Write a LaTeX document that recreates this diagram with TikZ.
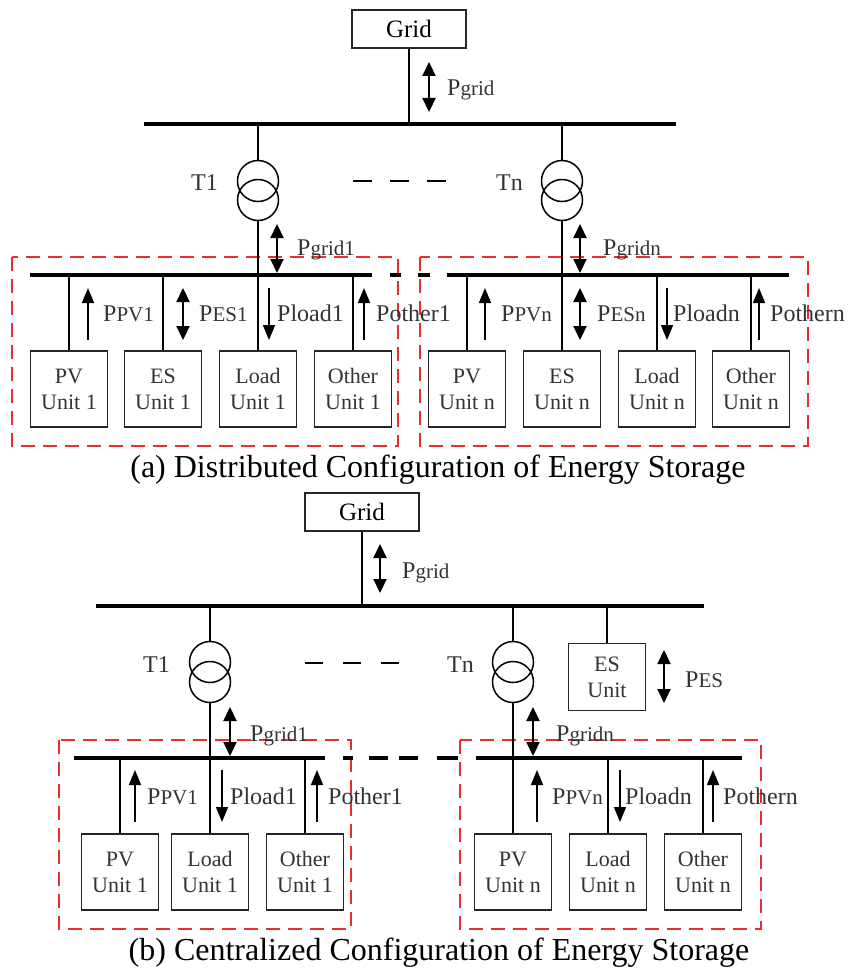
\documentclass[tikz,border=0pt]{standalone}
\usepackage{fontspec}
\setmainfont{Liberation Serif}
\usetikzlibrary{arrows.meta}
\definecolor{frame}{RGB}{235,45,45}
\newcommand\plab[2]{{\fontsize{24}{24}\selectfont #1{\fontsize{21}{21}\selectfont #2}}}
\begin{document}
\begin{tikzpicture}[x=1pt,y=-1pt,
 unitbox/.style={draw=black!85, line width=1.8pt, minimum width=77pt, minimum height=76pt, inner sep=0pt, align=center, font=\fontsize{22}{26}\selectfont, text=black!80},
 gridbox/.style={draw=black!85, line width=2pt, minimum width=114pt, minimum height=38pt, inner sep=0pt, font=\fontsize{25}{25}\selectfont},
 bus/.style={line width=3.4pt},
 branch/.style={line width=2.8pt},
 trafo/.style={draw, circle, line width=1.5pt, minimum size=41pt, inner sep=0pt},
 sarrow/.style={line width=1.6pt, -{Triangle[length=15pt,width=12pt]}},
 darrow/.style={line width=2.2pt, {Triangle[length=14pt,width=13pt]}-{Triangle[length=14pt,width=13pt]}},
 lab/.style={anchor=base west, inner sep=0pt, text=black!80},
 tlab/.style={anchor=base east, inner sep=0pt, font=\fontsize{24}{24}\selectfont, text=black!80},
 grp/.style={draw=frame, line width=2pt, dash pattern=on 14pt off 8pt},
 gapline/.style={line width=2pt},
 captext/.style={font=\fontsize{32}{32}\selectfont}
]
\useasboundingbox (0,0) rectangle (851,971);

% ================= (a) =================
\draw[grp] (12,257) rectangle (398,446);
\draw[grp] (420,257) rectangle (808,446);

\node[gridbox] (gridA) at (409,29) {Grid};
\coordinate (topA) at (409,124);
\draw[bus] (144,124) -- (676,124);
\draw[branch] (gridA.south) -- (topA);
\draw[darrow] (429,62) -- (429,112);
\node[lab] at (447,96) {\plab{P}{grid}};

% transformers
\node[trafo] (t1a) at (258,181) {};
\node[trafo] (t1b) at (258,200) {};
\node[trafo] (tna) at (562,181) {};
\node[trafo] (tnb) at (562,200) {};
\node[tlab] at (218,190) {T1};
\node[tlab] at (523,190) {Tn};
\draw[branch] (t1a.north) -- (t1a.north |- topA);
\draw[branch] (tna.north) -- (tna.north |- topA);
\draw[gapline, dash pattern=on 19pt off 18pt] (353,181) -- (448,181);

% low-voltage buses
\coordinate (busA1) at (30,275);
\coordinate (busAn) at (447,275);
\draw[bus] (busA1) -- (372,275);
\draw[bus] (busAn) -- (789,275);
\draw[bus] (390,275) -- (401,275);
\draw[bus] (418,275) -- (430,275);

% units feeder 1
\node[unitbox] (pv1a) at (69,389) {PV\\Unit 1};
\node[unitbox] (es1a) at (163,389) {ES\\Unit 1};
\node[unitbox] (ld1a) at (258,389) {Load\\Unit 1};
\node[unitbox] (ot1a) at (353,389) {Other\\Unit 1};
\draw[branch] (pv1a.north) -- (pv1a.north |- busA1);
\draw[branch] (es1a.north) -- (es1a.north |- busA1);
\draw[branch] (t1b.south) -- (ld1a.north);
\draw[branch] (ot1a.north) -- (ot1a.north |- busA1);

% units feeder n
\node[unitbox] (pvna) at (467,389) {PV\\Unit n};
\node[unitbox] (esna) at (562,389) {ES\\Unit n};
\node[unitbox] (ldna) at (657,389) {Load\\Unit n};
\node[unitbox] (otna) at (751,389) {Other\\Unit n};
\draw[branch] (pvna.north) -- (pvna.north |- busAn);
\draw[branch] (tnb.south) -- (esna.north);
\draw[branch] (ldna.north) -- (ldna.north |- busAn);
\draw[branch] (otna.north) -- (otna.north |- busAn);

% power flows (a)
\draw[darrow] (277,224) -- (277,273);
\node[lab] at (297,255) {\plab{P}{grid1}};
\draw[darrow] (580,224) -- (580,273);
\node[lab] at (603,255) {\plab{P}{gridn}};

\draw[sarrow] (88,340) -- (88,288);
\node[lab] at (103,321) {\plab{P}{PV1}};
\draw[darrow] (183,288) -- (183,340);
\node[lab] at (199,321) {\plab{P}{ES1}};
\draw[sarrow] (269,288) -- (269,340);
\node[lab] at (277,321) {\plab{Pload1}{}};
\draw[sarrow] (364,340) -- (364,288);
\node[lab] at (376,321) {\plab{Pother1}{}};

\draw[sarrow] (485,340) -- (485,288);
\node[lab] at (501,321) {\plab{P}{PVn}};
\draw[darrow] (580,288) -- (580,340);
\node[lab] at (597,321) {\plab{P}{ESn}};
\draw[sarrow] (667,288) -- (667,340);
\node[lab] at (673,321) {\plab{Ploadn}{}};
\draw[sarrow] (759,340) -- (759,288);
\node[lab] at (770,321) {\plab{Pothern}{}};

\node[captext] (capA) at (438,470) {(a) Distributed Configuration of Energy Storage};

% ================= (b) =================
\draw[grp] (59,740) rectangle (351,929);
\draw[grp] (460,740) rectangle (761,929);

\node[gridbox] (gridB) at (362,512) {Grid};
\coordinate (topB) at (362,606);
\draw[bus] (96,606) -- (704,606);
\draw[branch] (gridB.south) -- (topB);
\draw[darrow] (380,544) -- (380,593);
\node[lab] at (402,578) {\plab{P}{grid}};

\node[trafo] (t1c) at (210,662) {};
\node[trafo] (t1d) at (210,682) {};
\node[trafo] (tnc) at (513,662) {};
\node[trafo] (tnd) at (513,682) {};
\node[tlab] at (170,672) {T1};
\node[tlab] at (474,672) {Tn};
\draw[branch] (t1c.north) -- (t1c.north |- topB);
\draw[branch] (tnc.north) -- (tnc.north |- topB);
\draw[gapline, dash pattern=on 18pt off 20pt] (305,663) -- (399,663);

% central ES unit
\node[unitbox, minimum height=67pt] (esB) at (607,677) {ES\\Unit};
\draw[branch] (esB.north) -- (esB.north |- topB);
\draw[darrow] (664,650) -- (664,703);
\node[lab] at (685,687) {\plab{P}{ES}};

% low-voltage buses
\coordinate (busB1) at (74,758);
\coordinate (busBn) at (476,758);
\draw[bus] (busB1) -- (325,758);
\draw[bus] (busBn) -- (742,758);
\draw[bus] (343,758) -- (353,758);
\draw[bus] (369,758) -- (388,758);
\draw[bus] (399,758) -- (418,758);
\draw[bus] (437,758) -- (458,758);

\node[unitbox] (pv1b) at (120,872) {PV\\Unit 1};
\node[unitbox] (ld1b) at (210,872) {Load\\Unit 1};
\node[unitbox] (ot1b) at (305,872) {Other\\Unit 1};
\draw[branch] (pv1b.north) -- (pv1b.north |- busB1);
\draw[branch] (t1d.south) -- (ld1b.north);
\draw[branch] (ot1b.north) -- (ot1b.north |- busB1);

\node[unitbox] (pvnb) at (513,872) {PV\\Unit n};
\node[unitbox] (ldnb) at (608,872) {Load\\Unit n};
\node[unitbox] (otnb) at (703,872) {Other\\Unit n};
\draw[branch] (tnd.south) -- (pvnb.north);
\draw[branch] (ldnb.north) -- (ldnb.north |- busBn);
\draw[branch] (otnb.north) -- (otnb.north |- busBn);

% power flows (b)
\draw[darrow] (230,707) -- (230,756);
\node[lab] at (250,741) {\plab{P}{grid1}};
\draw[darrow] (533,707) -- (533,756);
\node[lab] at (556,741) {\plab{P}{gridn}};

\draw[sarrow] (135,822) -- (135,770);
\node[lab] at (147,804) {\plab{P}{PV1}};
\draw[sarrow] (222,770) -- (222,822);
\node[lab] at (230,804) {\plab{Pload1}{}};
\draw[sarrow] (317,822) -- (317,770);
\node[lab] at (328,804) {\plab{Pother1}{}};

\draw[sarrow] (537,822) -- (537,770);
\node[lab] at (552,804) {\plab{P}{PVn}};
\draw[sarrow] (620,770) -- (620,822);
\node[lab] at (625,804) {\plab{Ploadn}{}};
\draw[sarrow] (713,822) -- (713,770);
\node[lab] at (723,804) {\plab{Pothern}{}};

\node[captext] (capB) at (439,953) {(b) Centralized Configuration of Energy Storage};
\end{tikzpicture}
\end{document}
